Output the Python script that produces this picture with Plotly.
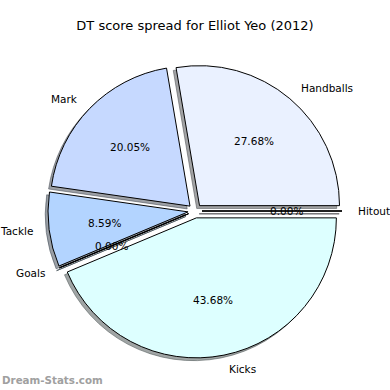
import math
import plotly.graph_objects as go

# ---- data ----
labels = ["Hitout", "Handballs", "Mark", "Tackle", "Goals", "Kicks"]
values = [0.00, 27.68, 20.05, 8.59, 0.00, 43.68]
colors = ["#F0F0FF", "#EAF1FF", "#C6D9FF", "#B3D4FF", "#B0E0FF", "#DDFFFF"]
title_text = "DT score spread for Elliot Yeo (2012)"
watermark = "Dream-Stats.com"

# ---- layout geometry (pixels) ----
W = H = 390
CX, CY = 195.0, 211.0          # pie centre
R = 140.0                      # pie radius
PULL = 0.05
SHADOW = 2.8                   # shadow offset (px, left & down)
FONT = "DejaVu Sans"

box = 2 * R * (1 + PULL)       # plotly: r = min(w,h)/(2+2*pull)


def dom(cx, cy):
    x0 = (cx - box / 2) / W
    x1 = (cx + box / 2) / W
    y0 = 1 - (cy + box / 2) / H
    y1 = 1 - (cy - box / 2) / H
    return dict(x=[x0, x1], y=[y0, y1])


def shadow_col(hexc):
    r = int(hexc[1:3], 16) * 0.3
    g = int(hexc[3:5], 16) * 0.3
    b = int(hexc[5:7], 16) * 0.3
    return f"rgba({r:.0f},{g:.0f},{b:.0f},0.5)"


fig = go.Figure()

sh_cols = [shadow_col(c) for c in colors]
fig.add_trace(go.Pie(
    labels=labels, values=values, sort=False, direction="counterclockwise",
    rotation=90, pull=[PULL] * len(values), domain=dom(CX - SHADOW, CY + SHADOW),
    marker=dict(colors=sh_cols, line=dict(color=sh_cols, width=1)),
    textinfo="none", hoverinfo="skip", showlegend=False,
))
fig.add_trace(go.Pie(
    labels=labels, values=values, sort=False, direction="counterclockwise",
    rotation=90, pull=[PULL] * len(values), domain=dom(CX, CY),
    marker=dict(colors=colors, line=dict(color="black", width=1)),
    textinfo="none", showlegend=False,
))

# text positions computed from the data (matplotlib-like placement)
total = sum(values)
start = 0.0
annotations = []
shapes = []
for lab, v, col in zip(labels, values, sh_cols):
    ang = 360.0 * v / total
    mid = math.radians(start + ang / 2)
    start += ang
    dx, dy = math.cos(mid), -math.sin(mid)
    ax = CX + PULL * R * dx
    ay = CY + PULL * R * dy
    if v == 0:
        # zero-width wedge: drawn as its edge line (plus shadow)
        for off, c in ((SHADOW, col), (0, "black")):
            shapes.append(dict(
                type="line", xref="paper", yref="paper",
                x0=(ax - off) / W, y0=1 - (ay + off) / H,
                x1=(ax - off + R * dx) / W, y1=1 - (ay + off + R * dy) / H,
                line=dict(color=c, width=1)))
    px, py = ax + 0.6 * R * dx, ay + 0.6 * R * dy
    lx, ly = ax + 1.1 * R * dx, ay + 1.1 * R * dy
    annotations.append(dict(
        x=px / W, y=1 - py / H, xref="paper", yref="paper",
        text=f"{v:.2f}%", showarrow=False, xanchor="center", yanchor="middle",
        font=dict(family=FONT, size=10.5, color="black")))
    annotations.append(dict(
        x=lx / W, y=1 - ly / H, xref="paper", yref="paper",
        text=lab, showarrow=False,
        xanchor="left" if dx > 0 else "right", yanchor="middle",
        font=dict(family=FONT, size=10.5, color="black")))

annotations.append(dict(
    x=0, y=1 - 380 / H, xref="paper", yref="paper", text=f"<b>{watermark}</b>",
    showarrow=False, xanchor="left", yanchor="middle",
    font=dict(family=FONT, size=10.3, color="#A0A0A0")))

fig.update_layout(
    width=W, height=H, margin=dict(l=0, r=0, t=0, b=0),
    paper_bgcolor="white", plot_bgcolor="white",
    title=dict(text=title_text, x=0.5, xanchor="center", y=1 - 25 / H,
               yanchor="middle", font=dict(family=FONT, size=13, color="black")),
    annotations=annotations, shapes=shapes,
)

fig.write_html("out.html", config={"displayModeBar": False},
               post_script="document.body.style.margin='0';")
